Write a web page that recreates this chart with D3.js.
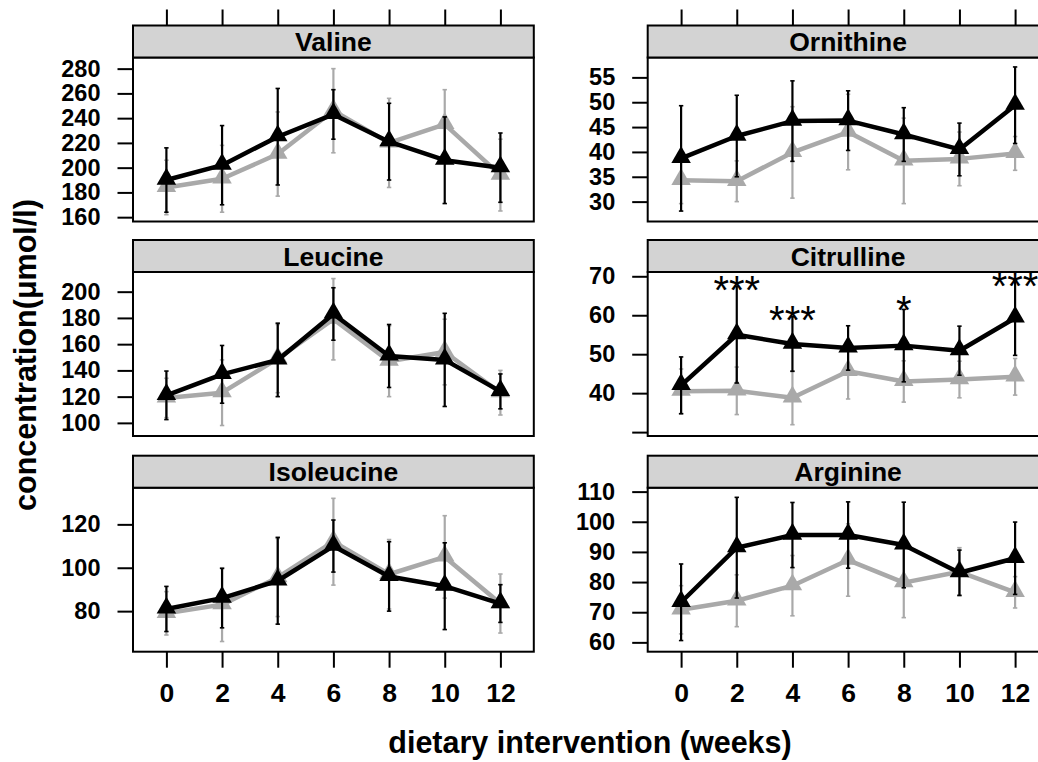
<!DOCTYPE html>
<html><head><meta charset="utf-8">
<script src="https://cdn.jsdelivr.net/npm/d3@7"></script>
<style>
body{margin:0;background:#fff;}
svg{display:block;}
text{font-family:"Liberation Sans",Arial,Helvetica,sans-serif;}
</style>
</head><body>
<svg id="chart" width="1038" height="762"></svg>
<script>
// ---------------- data ----------------
const weeks = [0, 2, 4, 6, 8, 10, 12];
const xTickLabels = ["0", "2", "4", "6", "8", "10", "12"];
const panelNames = ["Valine", "Ornithine", "Leucine", "Citrulline", "Isoleucine", "Arginine"];

const valineBlack   = [190, 202, 225, 243, 221, 206, 200];
const valineBlackSd = [26, 32, 39, 20, 31, 35, 28];
const valineGray    = [184, 191, 211, 246, 220, 235, 194];
const valineGraySd  = [22, 27, 34, 34, 36, 28, 29];
const valineTicks   = [160, 180, 200, 220, 240, 260, 280];
const valineRange   = [156.5, 289];

const ornithineBlack   = [38.7, 43.2, 46.2, 46.3, 43.5, 40.5, 49.4];
const ornithineBlackSd = [10.6, 8.2, 8.1, 6.0, 5.4, 5.3, 7.7];
const ornithineGray    = [34.3, 34.1, 39.9, 44.0, 38.2, 38.6, 39.7];
const ornithineGraySd  = [4.7, 4.1, 9.2, 7.6, 8.6, 5.4, 3.4];
const ornithineTicks   = [30, 35, 40, 45, 50, 55];
const ornithineRange   = [26, 59];

const leucineBlack   = [121, 137, 148, 183, 151, 148, 124];
const leucineBlackSd = [18.5, 22, 28, 20, 24, 35.5, 13.3];
const leucineGray    = [119, 123, 149, 179, 147, 154, 123];
const leucineGraySd  = [15, 25, 26, 31, 27, 25, 17];
const leucineTicks   = [100, 120, 140, 160, 180, 200];
const leucineRange   = [90, 215];

const citrullineBlack   = [42.0, 55.0, 52.6, 51.6, 52.2, 50.9, 59.3];
const citrullineBlackSd = [7.3, 12.4, 7.0, 5.7, 9.3, 6.3, 9.6];
const citrullineGray    = [40.5, 40.6, 38.8, 45.6, 43.0, 43.5, 44.2];
const citrullineGraySd  = [5.7, 6.1, 6.9, 7.1, 5.3, 4.7, 4.7];
const citrullineTicks   = [30, 40, 50, 60, 70];
const citrullineTickLabels = ["", "40", "50", "60", "70"];
const citrullineRange   = [29, 71.1];

const isoleucineBlack   = [81, 86, 94, 110, 96, 91.5, 83.5];
const isoleucineBlackSd = [10.4, 13.7, 20, 12, 16, 20, 8.7];
const isoleucineGray    = [79, 83, 95.5, 112, 97, 105, 83.5];
const isoleucineGraySd  = [10, 17, 18, 20, 16, 19, 13.6];
const isoleucineTicks   = [80, 100, 120];
const isoleucineRange   = [61.3, 136.9];

const arginineBlack   = [73.3, 91.4, 95.6, 95.6, 92.3, 83.1, 87.9];
const arginineBlackSd = [12.7, 16.7, 10.8, 11, 14.2, 7.5, 12];
const arginineGray    = [70.8, 73.8, 78.8, 87.3, 79.8, 83.4, 76.6];
const arginineGraySd  = [8, 8.6, 10, 12, 11.6, 8, 5.2];
const arginineTicks   = [60, 70, 80, 90, 100, 110];
const arginineRange   = [56.9, 111.3];

// significance marks (Citrulline panel)
const sigWeeks  = [2, 4, 8, 12];
const sigLabels = ["***", "***", "*", "***"];
const sigValues = [68.7, 61.0, 63.6, 69.7];

const xTitle = "dietary intervention (weeks)";
const yTitle = "concentration(\u03bcmol/l)";

// ---------------- build ----------------
const panels = [
  {name: panelNames[0], black: valineBlack, blackSd: valineBlackSd, gray: valineGray, graySd: valineGraySd, ticks: valineTicks, labels: valineTicks.map(String), range: valineRange},
  {name: panelNames[1], black: ornithineBlack, blackSd: ornithineBlackSd, gray: ornithineGray, graySd: ornithineGraySd, ticks: ornithineTicks, labels: ornithineTicks.map(String), range: ornithineRange},
  {name: panelNames[2], black: leucineBlack, blackSd: leucineBlackSd, gray: leucineGray, graySd: leucineGraySd, ticks: leucineTicks, labels: leucineTicks.map(String), range: leucineRange},
  {name: panelNames[3], black: citrullineBlack, blackSd: citrullineBlackSd, gray: citrullineGray, graySd: citrullineGraySd, ticks: citrullineTicks, labels: citrullineTickLabels, range: citrullineRange, sig: true},
  {name: panelNames[4], black: isoleucineBlack, blackSd: isoleucineBlackSd, gray: isoleucineGray, graySd: isoleucineGraySd, ticks: isoleucineTicks, labels: isoleucineTicks.map(String), range: isoleucineRange},
  {name: panelNames[5], black: arginineBlack, blackSd: arginineBlackSd, gray: arginineGray, graySd: arginineGraySd, ticks: arginineTicks, labels: arginineTicks.map(String), range: arginineRange}
];

const colX = [133, 647.7];
const panelW = 400.8;
const stripTop = [25.5, 240, 455.7];
const stripH = 32;
const plotH = 164;
const GRAY = "#a9a9a9";
const FONT = '"Liberation Sans",Arial,Helvetica,sans-serif';

const svg = d3.select("#chart");

panels.forEach((p, i) => {
  const col = i % 2, row = Math.floor(i / 2);
  const x0 = colX[col];
  const sTop = stripTop[row];
  const pTop = sTop + stripH;
  const pBot = pTop + plotH;
  const x = d3.scaleLinear().domain([-1.2, 13.2]).range([x0, x0 + panelW]);
  const y = d3.scaleLinear().domain(p.range).range([pBot, pTop]);
  const g = svg.append("g");

  // plot area and strip
  g.append("rect").attr("x", x0).attr("y", pTop).attr("width", panelW).attr("height", plotH)
    .attr("fill", "#fff").attr("stroke", "#000").attr("stroke-width", 2);
  g.append("rect").attr("x", x0).attr("y", sTop).attr("width", panelW).attr("height", stripH)
    .attr("fill", "#d3d3d3").attr("stroke", "#000").attr("stroke-width", 2);
  g.append("text").attr("x", x0 + panelW / 2).attr("y", sTop + stripH / 2 + 9.5)
    .attr("text-anchor", "middle").attr("font-size", 26.5).attr("font-weight", "bold").text(p.name);

  // y axis
  const ya = g.append("g").attr("transform", `translate(${x0},0)`)
    .call(d3.axisLeft(y).tickValues(p.ticks).tickFormat((d, k) => p.labels[k]).tickSize(15.5).tickPadding(17));
  ya.select(".domain").remove();
  ya.selectAll("line").attr("stroke", "#000").attr("stroke-width", 2);
  ya.selectAll("text").attr("font-size", 23.5).attr("font-weight", "bold")
    .attr("font-family", FONT).attr("fill", "#000");

  // top ticks (first row)
  if (row === 0) {
    const ta = g.append("g").attr("transform", `translate(0,${sTop})`)
      .call(d3.axisTop(x).tickValues(weeks).tickSize(16).tickFormat(""));
    ta.select(".domain").remove();
    ta.selectAll("line").attr("stroke", "#000").attr("stroke-width", 2);
  }
  // bottom axis (last row)
  if (row === 2) {
    const ba = g.append("g").attr("transform", `translate(0,${pBot})`)
      .call(d3.axisBottom(x).tickValues(weeks).tickFormat((d, k) => xTickLabels[k]).tickSize(16).tickPadding(15));
    ba.select(".domain").remove();
    ba.selectAll("line").attr("stroke", "#000").attr("stroke-width", 2);
    ba.selectAll("text").attr("font-size", 26.5).attr("font-weight", "bold")
      .attr("font-family", FONT).attr("fill", "#000");
  }

  // series
  const line = d3.line().x((d, k) => x(weeks[k])).y(d => y(d));
  const tri = d3.symbol().type(d3.symbolTriangle).size(165);

  function drawSeries(vals, sds, color, errW) {
    const s = g.append("g");
    weeks.forEach((w, k) => {
      const lo = y(vals[k] - sds[k]), hi = y(vals[k] + sds[k]);
      s.append("line").attr("x1", x(w)).attr("x2", x(w)).attr("y1", lo).attr("y2", hi)
        .attr("stroke", color).attr("stroke-width", errW);
      [lo, hi].forEach(v => s.append("line").attr("x1", x(w) - 2.2).attr("x2", x(w) + 2.2)
        .attr("y1", v).attr("y2", v).attr("stroke", color).attr("stroke-width", 1.6));
    });
    s.append("path").datum(vals).attr("d", line).attr("fill", "none")
      .attr("stroke", color).attr("stroke-width", 4.5).attr("stroke-linejoin", "round");
    s.selectAll("path.pt").data(vals).enter().append("path").attr("class", "pt")
      .attr("d", tri).attr("fill", color)
      .attr("transform", (d, k) => `translate(${x(weeks[k])},${y(d) - 1})`);
  }
  drawSeries(p.gray, p.graySd, GRAY, 2.2);
  drawSeries(p.black, p.blackSd, "#000", 2.2);

  if (p.sig) {
    sigWeeks.forEach((w, k) => {
      g.append("text").attr("x", x(w)).attr("y", y(sigValues[k]) + 23)
        .attr("text-anchor", "middle").attr("font-size", 40).attr("fill", "#000").text(sigLabels[k]);
    });
  }
});

// axis titles
svg.append("text").attr("x", 590).attr("y", 753).attr("text-anchor", "middle")
  .attr("font-size", 30.5).attr("font-weight", "bold").text(xTitle);
svg.append("text").attr("transform", "translate(36,355) rotate(-90)").attr("text-anchor", "middle")
  .attr("font-size", 30.5).attr("font-weight", "bold").text(yTitle);
</script>
</body></html>
